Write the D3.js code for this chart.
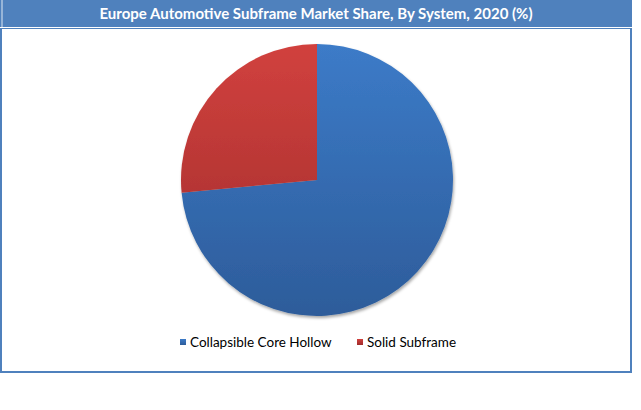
<!DOCTYPE html>
<html><head><meta charset="utf-8">
<script src="https://cdn.jsdelivr.net/npm/d3@7"></script>
<style>html,body{margin:0;padding:0;background:#fff;}svg{display:block;}</style>
</head><body>
<svg id="c" width="641" height="410"></svg>
<script>
const title = "Europe Automotive Subframe Market Share, By System, 2020 (%)";
const categories = ["Collapsible Core Hollow", "Solid Subframe"];
const values = [73.5, 26.5];
const colorsTop = ["#3c7bc8", "#d1413e"];
const colorsBottom = ["#2d5c9a", "#9f2c2b"];

const svg = d3.select("#c");
const defs = svg.append("defs");
const cx = 317, cy = 180, r = 136;

categories.forEach((c, i) => {
  const g = defs.append("linearGradient").attr("id", "g" + i)
    .attr("gradientUnits", "userSpaceOnUse")
    .attr("x1", 0).attr("y1", -r).attr("x2", 0).attr("y2", r);
  g.append("stop").attr("offset", "0%").attr("stop-color", colorsTop[i]);
  g.append("stop").attr("offset", "100%").attr("stop-color", colorsBottom[i]);
  const lgd = defs.append("linearGradient").attr("id", "lg" + i).attr("x1", 0).attr("y1", 0).attr("x2", 0).attr("y2", 1);
  lgd.append("stop").attr("offset", "0%").attr("stop-color", colorsTop[i]);
  lgd.append("stop").attr("offset", "100%").attr("stop-color", colorsBottom[i]);
});
const f = defs.append("filter").attr("id", "sh").attr("x", "-20%").attr("y", "-20%").attr("width", "140%").attr("height", "140%");
f.append("feDropShadow").attr("dx", 1).attr("dy", 2).attr("stdDeviation", 1.5).attr("flood-color", "#000").attr("flood-opacity", 0.35);

// frame
svg.append("rect").attr("x", 1).attr("y", 1).attr("width", 630).attr("height", 371)
  .attr("fill", "#fff").attr("stroke", "#4f81bd").attr("stroke-width", 2);
svg.append("rect").attr("x", 0).attr("y", 0).attr("width", 632).attr("height", 27).attr("fill", "#4f81bd");
svg.append("line").attr("x1", 2).attr("x2", 2).attr("y1", 0).attr("y2", 27).attr("stroke", "#dfe8f3").attr("stroke-width", 1);
svg.append("line").attr("x1", 0).attr("x2", 632).attr("y1", 27.5).attr("y2", 27.5).attr("stroke", "#fff").attr("stroke-width", 1);
svg.append("line").attr("x1", 0).attr("x2", 632).attr("y1", 28.5).attr("y2", 28.5).attr("stroke", "#4f81bd").attr("stroke-width", 1);
svg.append("text").attr("x", 316).attr("y", 18.5).attr("text-anchor", "middle")
  .attr("font-family", "Lato, 'Liberation Sans', sans-serif").attr("font-weight", "bold")
  .attr("font-size", 15).attr("fill", "#fff").text(title);

// pie
const pie = d3.pie().sort(null).value(d => d);
const arc = d3.arc().innerRadius(0).outerRadius(r);
const pg = svg.append("g").attr("transform", `translate(${cx},${cy})`).attr("filter", "url(#sh)");
pg.selectAll("path").data(pie(values)).join("path")
  .attr("d", arc)
  .attr("fill", (d, i) => `url(#g${i})`);

// legend
const legX = [180, 357];
const lg = svg.append("g");
categories.forEach((c, i) => {
  lg.append("rect").attr("x", legX[i]).attr("y", 339).attr("width", 6).attr("height", 6)
    .attr("fill", `url(#lg${i})`);
  lg.append("text").attr("x", legX[i] + 10).attr("y", 347)
    .attr("font-family", "Lato, 'Liberation Sans', sans-serif").attr("font-size", 13.5)
    .attr("fill", "#000").text(c);
});
</script>
</body></html>
